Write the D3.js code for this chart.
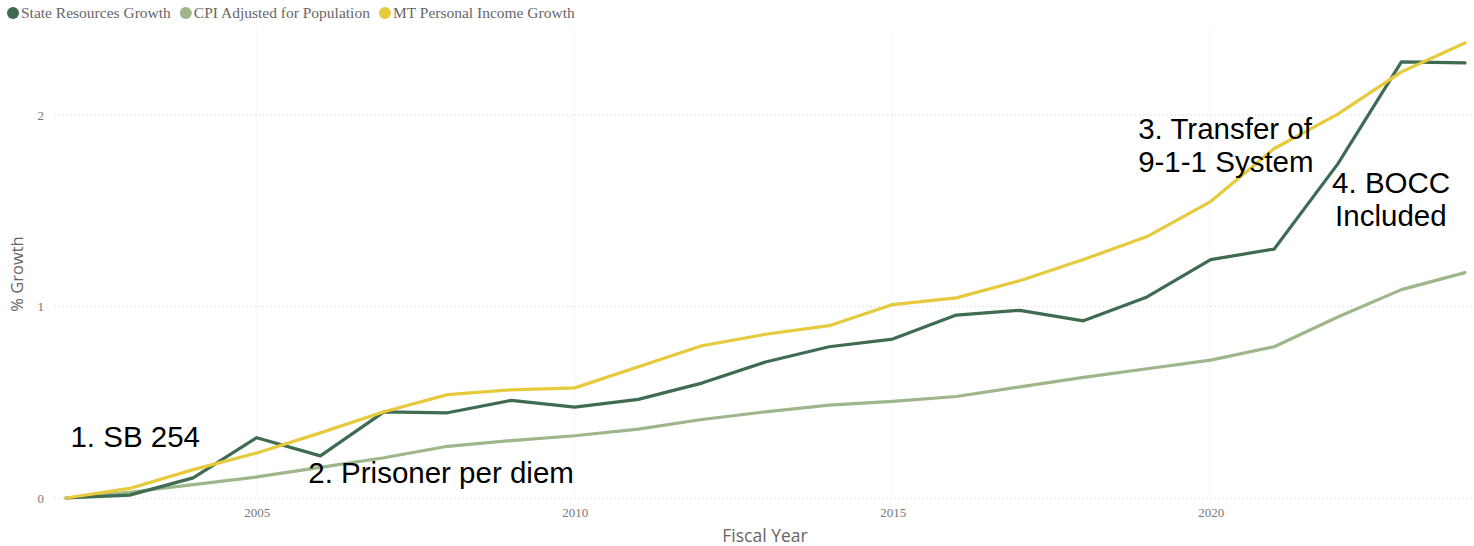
<!DOCTYPE html>
<html>
<head>
<meta charset="utf-8">
<script src="https://cdn.jsdelivr.net/npm/d3@7"></script>
<style>
  html, body { margin: 0; padding: 0; background: #fff; }
  svg { display: block; }
</style>
</head>
<body>
<svg id="chart" width="1474" height="546"></svg>
<script>
// Fiscal years on the x axis
const years = [2002, 2003, 2004, 2005, 2006, 2007, 2008, 2009, 2010, 2011, 2012,
               2013, 2014, 2015, 2016, 2017, 2018, 2019, 2020, 2021, 2022, 2023, 2024];

// Cumulative growth since FY2002
const stateResources = [0, 0.015, 0.105, 0.315, 0.22, 0.45, 0.445, 0.51, 0.475, 0.515, 0.6,
                        0.71, 0.79, 0.83, 0.955, 0.98, 0.925, 1.05, 1.245, 1.3, 1.745, 2.277, 2.272];
const cpiPopulation = [0, 0.03, 0.07, 0.11, 0.16, 0.21, 0.27, 0.3, 0.325, 0.36, 0.41,
                       0.45, 0.485, 0.505, 0.53, 0.58, 0.63, 0.675, 0.72, 0.79, 0.945, 1.088, 1.177];
const personalIncome = [0, 0.05, 0.148, 0.235, 0.34, 0.45, 0.54, 0.565, 0.575, 0.685, 0.795,
                        0.855, 0.9, 1.01, 1.045, 1.135, 1.245, 1.365, 1.548, 1.825, 2.005, 2.225, 2.376];

const xTicks = [2005, 2010, 2015, 2020];
const yTicks = [0, 1, 2];

const seriesNames = ["State Resources Growth", "CPI Adjusted for Population", "MT Personal Income Growth"];
const seriesColors = ["#3f6b51", "#9db68a", "#e6ca3c"];

// Event annotations: label lines, anchored at (year, value) of the first baseline
const notes = [
  { lines: ["1. SB 254"], year: 2002.07, value: 0.265, indent: 0 },
  { lines: ["2. Prisoner per diem"], year: 2005.81, value: 0.08, indent: 0 },
  { lines: ["3. Transfer of", "9-1-1 System"], year: 2018.86, value: 1.875, indent: 0 },
  { lines: ["4. BOCC", "Included"], year: 2021.91, value: 1.595, indent: 3 }
];

const svg = d3.select("#chart");

const x = d3.scaleLinear().domain([2002, 2024]).range([66, 1465]);
const y = d3.scaleLinear().domain([0, 2]).range([498, 115]);

// Dotted gridlines
const grid = svg.append("g");
grid.selectAll("line.h").data(yTicks).join("line")
  .attr("x1", 55).attr("x2", 1474)
  .attr("y1", d => y(d)).attr("y2", d => y(d))
  .attr("stroke", "#d4d4d4").attr("stroke-width", 1).attr("stroke-dasharray", "1,3");
grid.selectAll("line.v").data(xTicks).join("line")
  .attr("x1", d => x(d)).attr("x2", d => x(d))
  .attr("y1", 30).attr("y2", 498)
  .attr("stroke", "#e0e0e0").attr("stroke-width", 1).attr("stroke-dasharray", "1,3");

// Axes (labels only, no domain line)
const xAxis = svg.append("g").attr("transform", "translate(0,498)")
  .call(d3.axisBottom(x).tickValues(xTicks).tickFormat(d3.format("d")).tickSize(0).tickPadding(10));
xAxis.select(".domain").remove();
xAxis.selectAll("text").attr("font-family", "'Liberation Serif', 'DejaVu Serif', serif")
  .attr("font-size", 13).attr("fill", "#777");

const yAxis = svg.append("g").attr("transform", "translate(52,0)")
  .call(d3.axisLeft(y).tickValues(yTicks).tickFormat(d3.format("d")).tickSize(0).tickPadding(8));
yAxis.select(".domain").remove();
yAxis.selectAll("text").attr("font-family", "'Liberation Serif', 'DejaVu Serif', serif")
  .attr("font-size", 13).attr("fill", "#777");

// Axis titles
svg.append("text").attr("x", 765).attr("y", 542).attr("text-anchor", "middle")
  .attr("font-family", "'Open Sans', 'DejaVu Sans', sans-serif").attr("font-size", 17.5)
  .attr("fill", "#666").text("Fiscal Year");
svg.append("text").attr("transform", "translate(23,274) rotate(-90)").attr("text-anchor", "middle")
  .attr("font-family", "'Open Sans', 'DejaVu Sans', sans-serif").attr("font-size", 16.5)
  .attr("fill", "#666").text("% Growth");

// Series lines
const line = d3.line().x((d, i) => x(years[i])).y(d => y(d));
const seriesData = [stateResources, cpiPopulation, personalIncome];
// draw CPI first, then state resources, then income on top
[1, 0, 2].forEach(k => {
  svg.append("path").datum(seriesData[k])
    .attr("fill", "none").attr("stroke", seriesColors[k])
    .attr("stroke-width", 3.2).attr("stroke-linejoin", "round").attr("stroke-linecap", "round")
    .attr("d", line);
});

// Legend
const legend = svg.append("g").attr("font-family", "'Liberation Serif', 'DejaVu Serif', serif")
  .attr("font-size", 15.5).attr("fill", "#666");
let lx = 13;
seriesNames.forEach((name, i) => {
  legend.append("circle").attr("cx", lx).attr("cy", 13).attr("r", 6).attr("fill", seriesColors[i]);
  const t = legend.append("text").attr("x", lx + 8).attr("y", 18).text(name);
  lx += 8 + t.node().getComputedTextLength() + 15;
});

// Annotations
const ann = svg.append("g").attr("font-family", "'Liberation Sans', Arial, sans-serif")
  .attr("font-size", 29.5).attr("fill", "#000");
notes.forEach(n => {
  const t = ann.append("text").attr("x", x(n.year)).attr("y", y(n.value));
  n.lines.forEach((s, j) => {
    t.append("tspan").attr("x", x(n.year) + (j > 0 ? n.indent : 0))
      .attr("dy", j === 0 ? 0 : 33).text(s);
  });
});
</script>
</body>
</html>
